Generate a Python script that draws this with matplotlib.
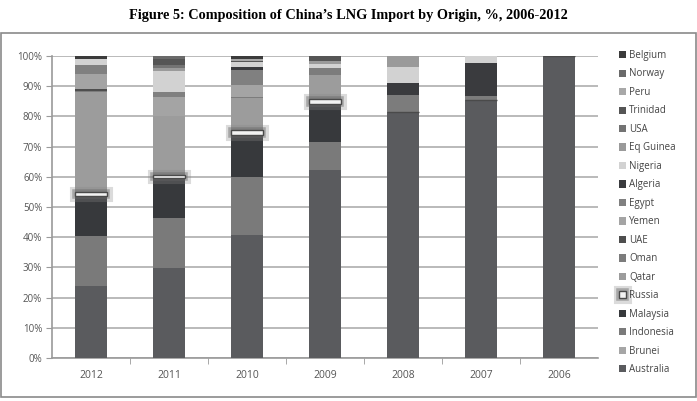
import matplotlib.pyplot as plt
import matplotlib.patheffects as pe
from matplotlib.patches import Rectangle

years = ["2012", "2011", "2010", "2009", "2008", "2007", "2006"]

# share of each origin, %, per year (same order as years)
australia = [24.0, 29.7, 40.7, 62.2, 81.5, 85.5, 100.0]
brunei    = [0, 0, 0, 0, 0, 0, 0]
indonesia = [16.5, 16.7, 19.3, 9.4, 0, 0, 0]
malaysia  = [13.0, 13.2, 14.0, 12.5, 0, 0, 0]
russia    = [1.5, 1.0, 1.5, 1.5, 0, 0, 0]
qatar     = [33.0, 19.4, 10.5, 8.1, 0, 0, 0]
oman      = [0.5, 0, 0.5, 2.3, 5.5, 1.3, 0]
uae       = [0.5, 0, 0, 0, 0, 0, 0]
yemen     = [5.0, 6.5, 4.0, 0, 0, 0, 0]
egypt     = [3.0, 1.5, 5.0, 0, 0, 0, 0]
algeria   = [0, 0, 1.0, 0, 4.0, 11.0, 0]
nigeria   = [2.0, 7.0, 1.5, 1.5, 5.5, 2.2, 0]
eq_guinea = [0, 1.0, 0, 1.0, 3.5, 0, 0]
usa       = [0, 1.0, 0, 0, 0, 0, 0]
trinidad  = [0, 2.0, 0.5, 1.5, 0, 0, 0]
peru      = [0, 0, 0.5, 0, 0, 0, 0]
norway    = [0, 1.0, 0, 0, 0, 0, 0]
belgium   = [1.0, 0, 1.0, 0, 0, 0, 0]

series = [
    ("Australia", australia, "#5a5b5e"),
    ("Brunei", brunei, "#a6a6a6"),
    ("Indonesia", indonesia, "#7a7a7a"),
    ("Malaysia", malaysia, "#37393c"),
    ("Russia", russia, "#f2f2f2"),
    ("Qatar", qatar, "#9c9c9c"),
    ("Oman", oman, "#7c7c7c"),
    ("UAE", uae, "#4e4e4e"),
    ("Yemen", yemen, "#a4a4a4"),
    ("Egypt", egypt, "#808080"),
    ("Algeria", algeria, "#3a3b3e"),
    ("Nigeria", nigeria, "#d2d2d2"),
    ("Eq Guinea", eq_guinea, "#9a9a9a"),
    ("USA", usa, "#737373"),
    ("Trinidad", trinidad, "#555555"),
    ("Peru", peru, "#a8a8a8"),
    ("Norway", norway, "#6a6a6a"),
    ("Belgium", belgium, "#3b3b3b"),
]

fig = plt.figure(figsize=(6.97, 4.01), dpi=100)
ax = fig.add_axes([52 / 697, 43 / 401, 546 / 697, 302 / 401])

x = range(len(years))
bottom = [0.0] * len(years)
handles = []
for name, vals, col in series:
    if name == "Russia":
        bars = ax.bar(x, vals, 0.4, bottom=bottom, color=col, edgecolor="#4a4a4a",
                      linewidth=1.0, zorder=4, label=name)
        for b, v in zip(bars, vals):
            if v > 0:
                b.set_path_effects([pe.Stroke(linewidth=8, foreground="#888888", alpha=0.3),
                                    pe.Stroke(linewidth=4, foreground="#666666", alpha=0.45),
                                    pe.Normal()])
    else:
        bars = ax.bar(x, vals, 0.4, bottom=bottom, color=col, linewidth=0, zorder=3, label=name)
    handles.append(bars)
    bottom = [b + v for b, v in zip(bottom, vals)]

ax.set_xlim(-0.5, len(years) - 0.5)
ax.set_ylim(0, 100)
ax.set_yticks(range(0, 101, 10))
ax.set_yticklabels([f"{v}%" for v in range(0, 101, 10)])
ax.set_xticks(list(x))
ax.set_xticklabels(years)
ax.set_xticks([i + 0.5 for i in range(len(years) - 1)], minor=True)

ax.yaxis.grid(True, color="#b4b4b4", linewidth=1.3, zorder=0)
ax.set_axisbelow(True)
for s in ["top", "right"]:
    ax.spines[s].set_visible(False)
for s in ["left", "bottom"]:
    ax.spines[s].set_color("#9a9a9a")
    ax.spines[s].set_linewidth(1.2)

ax.tick_params(axis="y", length=4, color="#9a9a9a", labelsize=7, labelcolor="#555555", pad=3)
ax.tick_params(axis="x", which="major", length=0, labelsize=7.5, labelcolor="#555555", pad=9)
ax.tick_params(axis="x", which="minor", length=4, color="#9a9a9a")
for lab in ax.get_xticklabels() + ax.get_yticklabels():
    lab.set_fontfamily("Open Sans")

leg = fig.legend(handles[::-1], [s[0] for s in series][::-1],
                 loc="upper left", bbox_to_anchor=(619 / 697, 1 - 50 / 401),
                 frameon=False, handlelength=0.75, handleheight=0.75,
                 handletextpad=0.3, labelspacing=0.77, borderaxespad=0, borderpad=0,
                 prop={"family": "Open Sans", "size": 7})
for t in leg.get_texts():
    t.set_color("#444444")

fig.patches.append(Rectangle((1 / 697, 4 / 401), 695 / 697, 364 / 401,
                             transform=fig.transFigure, fill=False,
                             edgecolor="#8a8a8a", linewidth=1.2))

fig.text(0.5, 1 - 15 / 401, "Figure 5: Composition of China\u2019s LNG Import by Origin, %, 2006-2012",
         ha="center", va="center", fontfamily="Liberation Serif", fontweight="bold", fontsize=10.3)

fig.savefig("out.png", dpi=100)
